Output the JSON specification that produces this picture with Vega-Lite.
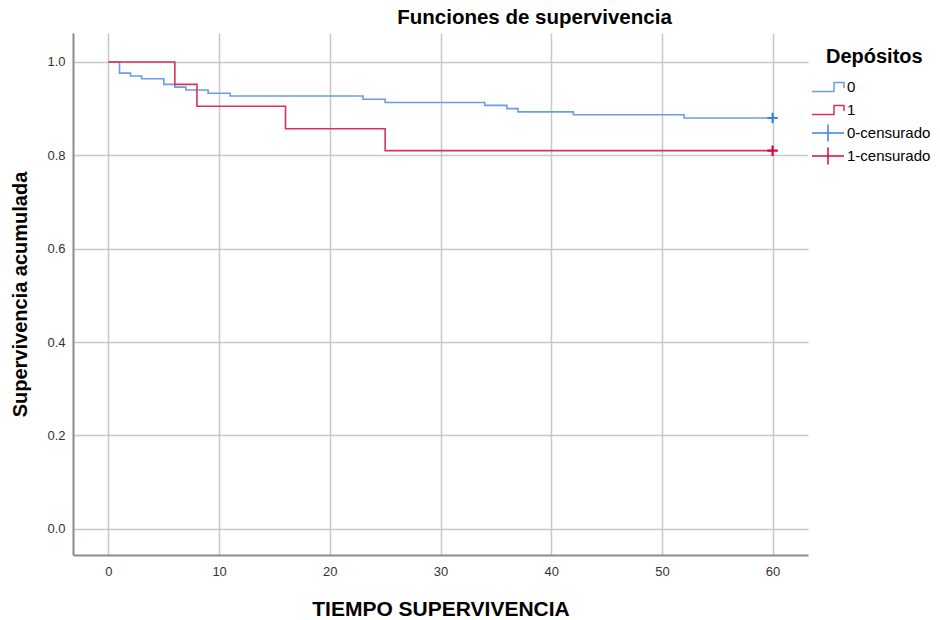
{
  "$schema": "https://vega.github.io/schema/vega-lite/v6.json",
  "width": 735,
  "height": 522,
  "autosize": "none",
  "padding": {"left": 73, "top": 33, "right": 132, "bottom": 65},
  "background": "white",
  "config": {
    "font": "Liberation Sans",
    "view": {"stroke": null},
    "axis": {
      "labelFont": "Liberation Sans",
      "labelFontSize": 13,
      "labelColor": "#333333",
      "ticks": false,
      "domainColor": "#8c8c8c",
      "domainWidth": 2,
      "gridColor": "#c8c8c8",
      "gridWidth": 1.5,
      "titleFont": "Liberation Sans",
      "titleFontSize": 20,
      "titleFontWeight": "bold",
      "titleColor": "#000000"
    }
  },
  "title": {
    "text": "Funciones de supervivencia",
    "font": "Liberation Sans",
    "fontSize": 20.5,
    "fontWeight": "bold",
    "color": "#000000",
    "anchor": "middle",
    "dx": 94,
    "offset": 5
  },
  "datasets": {
    "curves": [
      {"grupo": "0", "tiempo": 0, "surv": 1.0},
      {"grupo": "0", "tiempo": 1, "surv": 0.976},
      {"grupo": "0", "tiempo": 2, "surv": 0.970},
      {"grupo": "0", "tiempo": 3, "surv": 0.964},
      {"grupo": "0", "tiempo": 5, "surv": 0.952},
      {"grupo": "0", "tiempo": 6, "surv": 0.946},
      {"grupo": "0", "tiempo": 7, "surv": 0.940},
      {"grupo": "0", "tiempo": 9, "surv": 0.933},
      {"grupo": "0", "tiempo": 11, "surv": 0.927},
      {"grupo": "0", "tiempo": 23, "surv": 0.920},
      {"grupo": "0", "tiempo": 25, "surv": 0.913},
      {"grupo": "0", "tiempo": 34, "surv": 0.907},
      {"grupo": "0", "tiempo": 36, "surv": 0.900},
      {"grupo": "0", "tiempo": 37, "surv": 0.893},
      {"grupo": "0", "tiempo": 42, "surv": 0.887},
      {"grupo": "0", "tiempo": 52, "surv": 0.880},
      {"grupo": "0", "tiempo": 60, "surv": 0.880},
      {"grupo": "1", "tiempo": 0, "surv": 1.0},
      {"grupo": "1", "tiempo": 6, "surv": 0.952},
      {"grupo": "1", "tiempo": 8, "surv": 0.905},
      {"grupo": "1", "tiempo": 16, "surv": 0.857},
      {"grupo": "1", "tiempo": 25, "surv": 0.810},
      {"grupo": "1", "tiempo": 60, "surv": 0.810}
    ],
    "censored": [
      {"grupo": "0-censurado", "tiempo": 60, "surv": 0.880},
      {"grupo": "1-censurado", "tiempo": 60, "surv": 0.810}
    ]
  },
  "encoding": {
    "x": {
      "field": "tiempo",
      "type": "quantitative",
      "scale": {"domain": [-3.2, 63.2], "nice": false, "zero": false},
      "axis": {
        "values": [0, 10, 20, 30, 40, 50, 60],
        "title": "TIEMPO SUPERVIVENCIA",
        "titleFontSize": 21,
        "titlePadding": 20,
        "labelPadding": 10,
        "grid": true
      }
    },
    "y": {
      "field": "surv",
      "type": "quantitative",
      "scale": {"domain": [-0.056, 1.062], "nice": false, "zero": false},
      "axis": {
        "values": [0, 0.2, 0.4, 0.6, 0.8, 1.0],
        "format": ".1f",
        "title": "Supervivencia acumulada",
        "titlePadding": 16,
        "labelPadding": 8,
        "grid": true
      }
    },
    "color": {
      "field": "grupo",
      "type": "nominal",
      "scale": {
        "domain": ["0", "1", "0-censurado", "1-censurado"],
        "range": ["#6a9ce8", "#d8325a", "#3a82ea", "#e0063c"]
      },
      "legend": {
        "title": "Depósitos",
        "titleFont": "Liberation Sans",
        "titleFontSize": 20,
        "titleFontWeight": "bold",
        "titleColor": "#000000",
        "titlePadding": 9,
        "titleLimit": 300,
        "labelFont": "Liberation Sans",
        "labelFontSize": 15,
        "labelColor": "#000000",
        "labelOffset": 14,
        "orient": "none",
        "legendX": 738,
        "legendY": 14,
        "symbolSize": 400,
        "symbolStrokeWidth": 1.5,
        "rowPadding": -3.5,
        "symbolFillColor": "transparent",
        "encode": {
          "title": {"update": {"dx": {"value": 15}}},
          "symbols": {
            "update": {
              "shape": {"signal": "indexof(datum.value, 'censurado') >= 0 ? 'M-1,0H2.2M0.6,-0.85V0.85' : 'M0.6,-0.85M0.6,0.85M-1,0.45H1.2V-0.45H2.2V0.1'"},
              "fill": {"value": "transparent"},
              "strokeWidth": {"value": 1.5}
            }
          }
        }
      }
    }
  },
  "layer": [
    {
      "data": {"name": "curves"},
      "mark": {"type": "line", "interpolate": "step-after", "strokeWidth": 1.6}
    },
    {
      "data": {"name": "censored"},
      "mark": {"type": "point", "shape": "M-1,0H1M0,-1V1", "filled": false, "size": 110, "strokeWidth": 2.2, "opacity": 1}
    }
  ]
}
